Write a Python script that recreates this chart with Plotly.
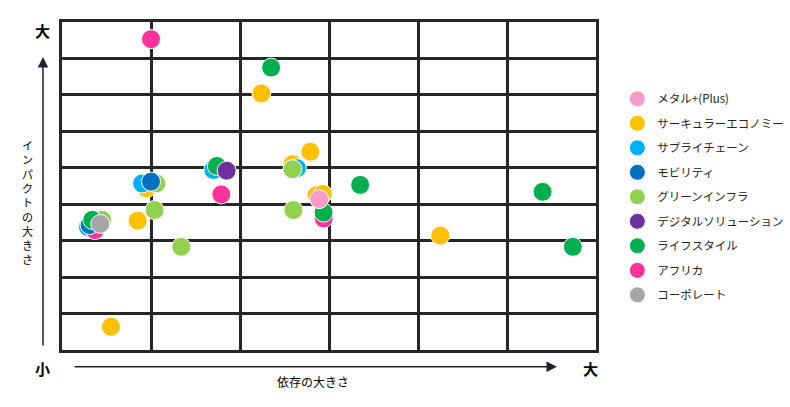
import plotly.graph_objects as go

# series names (legend order) and colours
names = ["メタル+(Plus)", "サーキュラーエコノミー", "サプライチェーン", "モビリティ",
         "グリーンインフラ", "デジタルソリューション", "ライフスタイル", "アフリカ", "コーポレート"]
colors = ["#F59CC8", "#FFC000", "#00B0F0", "#0070C0", "#92D050",
          "#7030A0", "#00B050", "#FF3399", "#A6A6A6"]

# x = 依存の大きさ (0-6), y = インパクトの大きさ (0-9)
metal_x = [2.89]
metal_y = [4.14]
circular_x = [2.24, 2.79, 2.59, 2.86, 2.93, 0.95, 0.85, 0.55, 4.25]
circular_y = [7.04, 5.44, 5.10, 4.25, 4.28, 4.44, 3.55, 0.64, 3.14]
supply_x = [2.64, 1.70, 0.90, 0.29]
supply_y = [4.99, 4.94, 4.57, 3.38]
mobility_x = [1.00, 0.31]
mobility_y = [4.62, 3.43]
greeninfra_x = [2.59, 2.60, 1.06, 1.04, 1.34, 0.45]
greeninfra_y = [4.96, 3.84, 4.57, 3.84, 2.83, 3.57]
digital_x = [1.85]
digital_y = [4.92]
lifestyle_x = [2.35, 1.74, 3.35, 2.94, 0.34, 5.40, 5.74]
lifestyle_y = [7.75, 5.05, 4.53, 3.77, 3.57, 4.34, 2.83]
africa_x = [1.00, 1.79, 2.94, 0.37]
africa_y = [8.53, 4.27, 3.61, 3.29]
corporate_x = [0.43]
corporate_y = [3.46]

series = [
    (metal_x, metal_y), (circular_x, circular_y), (supply_x, supply_y),
    (mobility_x, mobility_y), (greeninfra_x, greeninfra_y), (digital_x, digital_y),
    (lifestyle_x, lifestyle_y), (africa_x, africa_y), (corporate_x, corporate_y),
]

# drawing order (which dots sit on top), legend order is kept by legendrank
draw_order = [1, 2, 7, 4, 3, 6, 5, 0, 8]

fig = go.Figure()
for i in draw_order:
    xs, ys = series[i]
    fig.add_trace(go.Scatter(
        x=xs, y=ys, mode="markers", name=names[i],
        legendgroup=names[i], legendrank=i + 1,
        marker=dict(size=19, color=colors[i], line=dict(color="white", width=1)),
    ))

ink = "#262626"
fig.update_xaxes(range=[0, 6], dtick=1, showgrid=True, gridcolor=ink, gridwidth=2.5,
                 showline=True, linecolor=ink, linewidth=2.5, mirror=True,
                 showticklabels=False, zeroline=False, fixedrange=True)
fig.update_yaxes(range=[0, 9], dtick=1, showgrid=True, gridcolor=ink, gridwidth=2.5,
                 showline=True, linecolor=ink, linewidth=2.5, mirror=True,
                 showticklabels=False, zeroline=False, fixedrange=True)

font = "Noto Sans CJK JP"
ann = []
# arrows
ann.append(dict(xref="paper", yref="paper", x=-0.0356, y=0.893, ax=0, ay=290,
                text="", showarrow=True, arrowhead=2, arrowsize=1.4, arrowwidth=1.5,
                arrowcolor="#1F2030"))
ann.append(dict(xref="paper", yref="paper", x=0.927, y=-0.051, ax=-484, ay=0,
                text="", showarrow=True, arrowhead=2, arrowsize=1.4, arrowwidth=1.5,
                arrowcolor="#1F2030"))
# 大 / 小 ends
for tx, px, py in [("大", -0.0356, 0.9726), ("小", -0.0356, -0.055), ("大", 0.989, -0.055)]:
    ann.append(dict(xref="paper", yref="paper", x=px, y=py, text="<b>%s</b>" % tx,
                    xanchor="center", yanchor="middle", showarrow=False,
                    font=dict(family=font, size=15, color="black")))
# x title
ann.append(dict(xref="paper", yref="paper", x=0.47, y=-0.095, text="依存の大きさ",
                xanchor="center", yanchor="middle", showarrow=False,
                font=dict(family=font, size=12, color="black")))
# y title, written vertically with upright characters
ylabel = "インパクトの大きさ"
ann.append(dict(xref="paper", yref="paper", x=-0.0655, y=(350 - 202) / 328,
                text="<br>".join(ylabel), xanchor="center", yanchor="middle",
                showarrow=False, font=dict(family=font, size=11, color="black")))

fig.update_layout(
    width=790, height=407,
    margin=dict(l=62, r=194, t=22, b=57, autoexpand=False),
    plot_bgcolor="white", paper_bgcolor="white",
    annotations=ann,
    legend=dict(x=1.04, y=0.81, xanchor="left", yanchor="top",
                traceorder="grouped", tracegroupgap=5.5,
                font=dict(family=font, size=11.5, color="#222222")),
)

fig.write_html("out.html", config={"displayModeBar": False},
               post_script="document.body.style.margin='0';")
